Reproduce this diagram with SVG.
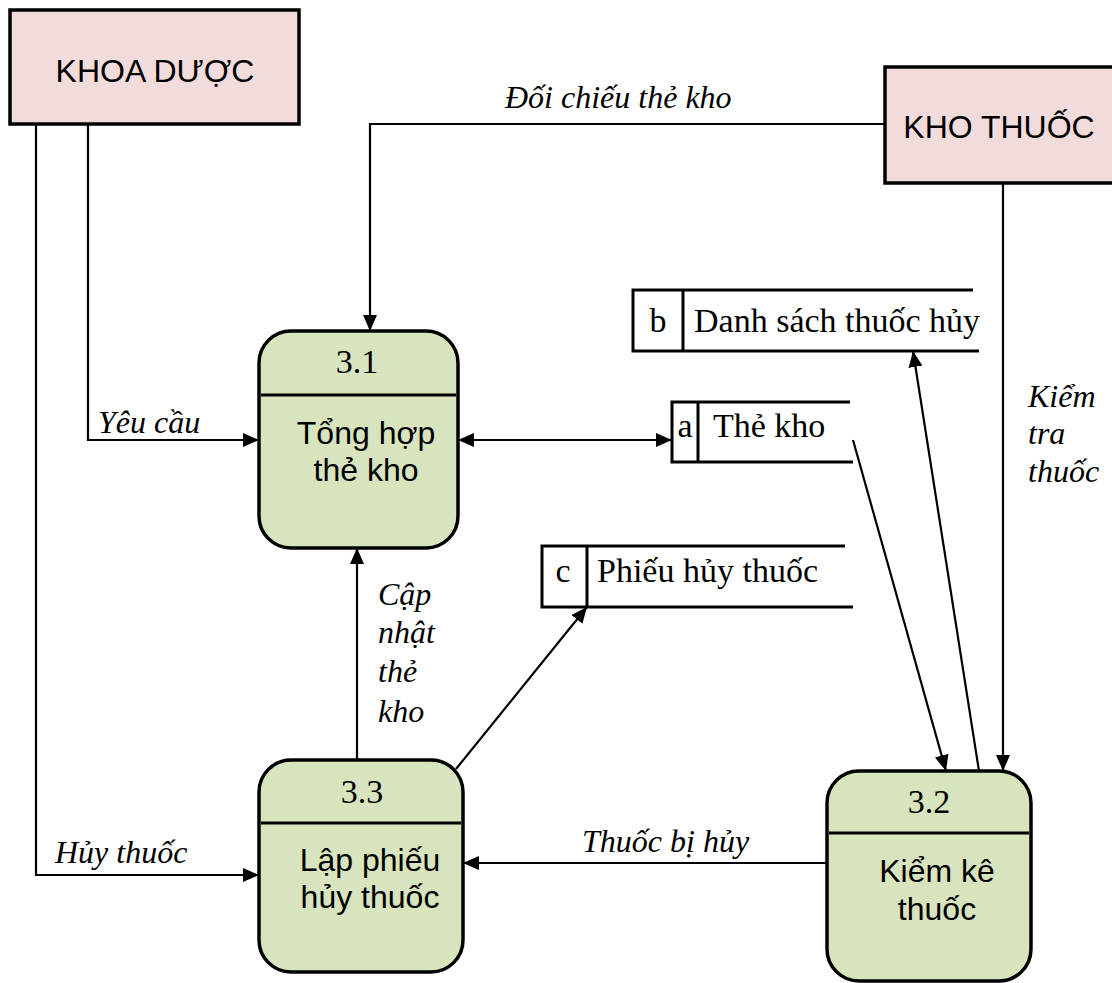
<svg xmlns="http://www.w3.org/2000/svg" width="1112" height="983" viewBox="0 0 1112 983">
  <defs>
    <marker id="arrow" viewBox="0 0 16 14" refX="16" refY="7" markerWidth="16" markerHeight="14" markerUnits="userSpaceOnUse" orient="auto-start-reverse">
      <path d="M0,0 L16,7 L0,14 Z" fill="#000"/>
    </marker>
    <style>
      .entity { fill: #F2DCDB; stroke: #000; stroke-width: 3.5; }
      .process { fill: #D7E4BD; stroke: #000; stroke-width: 3.5; }
      .divider { stroke: #000; stroke-width: 3; }
      .store { fill: none; stroke: #000; stroke-width: 3; }
      .flow { fill: none; stroke: #000; stroke-width: 2.2; }
      .sans { font-family: "Liberation Sans", Arial, sans-serif; font-size: 32px; fill: #000; }
      .serif { font-family: "Liberation Serif", "Times New Roman", serif; font-size: 34px; fill: #000; }
      .label { font-family: "Liberation Serif", "Times New Roman", serif; font-size: 32px; font-style: italic; fill: #000; }
    </style>
  </defs>

  <rect width="1112" height="983" fill="#fff"/>

  <!-- data flows -->
  <g id="connectors">
    <!-- KHO THUỐC -> 3.1 -->
    <polyline class="flow" points="885,124 370,124 370,331" marker-end="url(#arrow)"/>
    <!-- KHOA DƯỢC -> 3.1 -->
    <polyline class="flow" points="88,124 88,440 259,440" marker-end="url(#arrow)"/>
    <!-- KHOA DƯỢC -> 3.3 -->
    <polyline class="flow" points="36,124 36,875 259,875" marker-end="url(#arrow)"/>
    <!-- 3.1 <-> Thẻ kho -->
    <line class="flow" x1="458" y1="440" x2="672" y2="440" marker-start="url(#arrow)" marker-end="url(#arrow)"/>
    <!-- Thẻ kho -> 3.2 -->
    <line class="flow" x1="853" y1="440" x2="946" y2="771" marker-end="url(#arrow)"/>
    <!-- 3.2 -> Danh sách thuốc hủy -->
    <line class="flow" x1="979" y1="771" x2="913" y2="351" marker-end="url(#arrow)"/>
    <!-- KHO THUỐC -> 3.2 -->
    <line class="flow" x1="1003" y1="183" x2="1003" y2="771" marker-end="url(#arrow)"/>
    <!-- 3.3 -> 3.1 -->
    <line class="flow" x1="357" y1="760" x2="357" y2="548" marker-end="url(#arrow)"/>
    <!-- 3.3 -> Phiếu hủy thuốc -->
    <line class="flow" x1="456" y1="769" x2="587" y2="607" marker-end="url(#arrow)"/>
    <!-- 3.2 -> 3.3 -->
    <line class="flow" x1="827" y1="863" x2="463" y2="863" marker-end="url(#arrow)"/>

    <text class="label" x="505" y="108">Đối chiếu thẻ kho</text>
    <text class="label" x="98" y="433">Yêu cầu</text>
    <text class="label" x="55" y="863">Hủy thuốc</text>
    <text class="label" x="582" y="852">Thuốc bị hủy</text>
    <text class="label" x="378" y="605">Cập</text>
    <text class="label" x="378" y="643">nhật</text>
    <text class="label" x="378" y="682">thẻ</text>
    <text class="label" x="378" y="722">kho</text>
    <text class="label" x="1028" y="407">Kiểm</text>
    <text class="label" x="1028" y="444">tra</text>
    <text class="label" x="1028" y="482">thuốc</text>
  </g>

  <!-- external entities -->
  <g id="khoa-duoc">
    <rect class="entity" x="10" y="10" width="289" height="114"/>
    <text class="sans" x="155" y="82" text-anchor="middle">KHOA DƯỢC</text>
  </g>
  <g id="kho-thuoc">
    <rect class="entity" x="885" y="67" width="240" height="116"/>
    <text class="sans" x="999" y="138" text-anchor="middle">KHO THUỐC</text>
  </g>

  <!-- processes -->
  <g id="p3-1">
    <rect class="process" x="259" y="331" width="199" height="217" rx="32" ry="32"/>
    <line class="divider" x1="261" y1="395" x2="456" y2="395"/>
    <text class="serif" x="357" y="373" text-anchor="middle">3.1</text>
    <text class="sans" x="366" y="444" text-anchor="middle">Tổng hợp</text>
    <text class="sans" x="366" y="481" text-anchor="middle">thẻ kho</text>
  </g>
  <g id="p3-3">
    <rect class="process" x="259" y="760" width="204" height="212" rx="32" ry="32"/>
    <line class="divider" x1="261" y1="823" x2="461" y2="823"/>
    <text class="serif" x="362" y="803" text-anchor="middle">3.3</text>
    <text class="sans" x="370" y="871" text-anchor="middle">Lập phiếu</text>
    <text class="sans" x="370" y="908" text-anchor="middle">hủy thuốc</text>
  </g>
  <g id="p3-2">
    <rect class="process" x="827" y="771" width="204" height="210" rx="32" ry="32"/>
    <line class="divider" x1="829" y1="833" x2="1029" y2="833"/>
    <text class="serif" x="929" y="813" text-anchor="middle">3.2</text>
    <text class="sans" x="937" y="882" text-anchor="middle">Kiểm kê</text>
    <text class="sans" x="937" y="920" text-anchor="middle">thuốc</text>
  </g>

  <!-- data stores -->
  <g id="store-a">
    <path class="store" d="M850,402 H672 V462 H853 M698,402 V462"/>
    <text class="serif" x="685" y="437" text-anchor="middle">a</text>
    <text class="serif" x="713" y="437">Thẻ kho</text>
  </g>
  <g id="store-b">
    <path class="store" d="M973,290 H633 V351 H979 M683,290 V351"/>
    <text class="serif" x="658" y="332" text-anchor="middle">b</text>
    <text class="serif" x="694" y="332">Danh sách thuốc hủy</text>
  </g>
  <g id="store-c">
    <path class="store" d="M845,546 H542 V607 H853 M587,546 V607"/>
    <text class="serif" x="563" y="582" text-anchor="middle">c</text>
    <text class="serif" x="597" y="582">Phiếu hủy thuốc</text>
  </g>
</svg>
